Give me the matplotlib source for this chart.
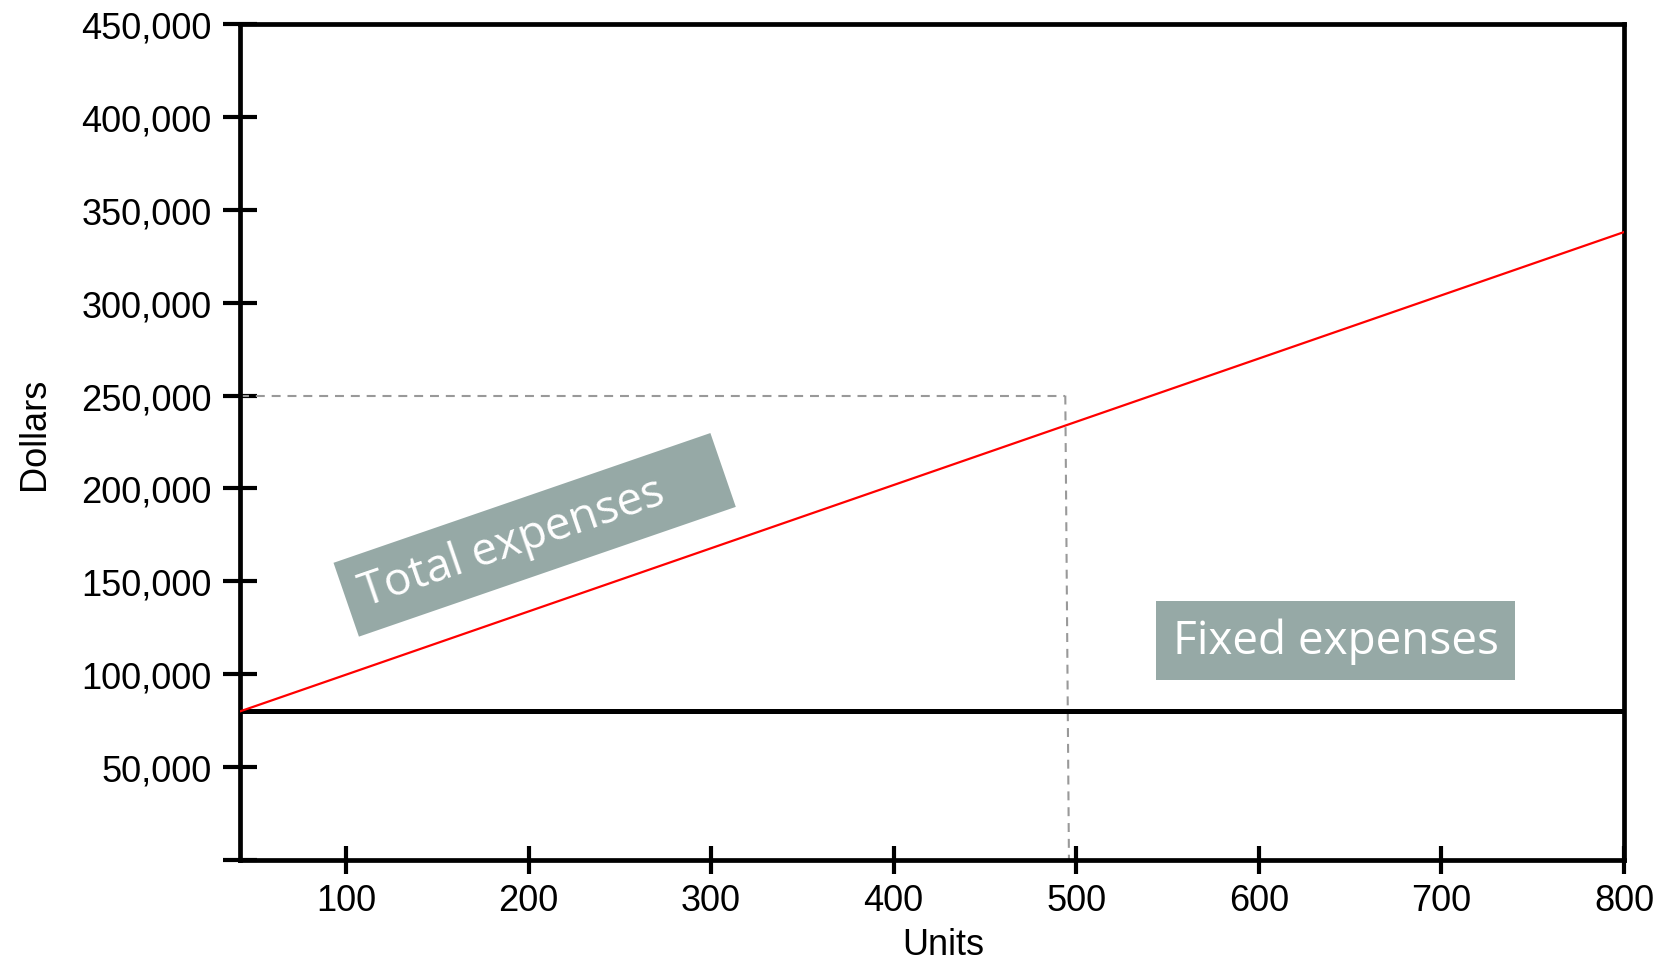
import matplotlib
matplotlib.use("Agg")
import matplotlib.pyplot as plt

# break-even chart: fixed expenses vs total expenses
units = [42, 800]
fixed_exp = [80000, 80000]
total_exp = [80000, 338000]
be_units = 494
be_dollars = 250000

x_ticks = [100, 200, 300, 400, 500, 600, 700, 800]
y_ticks = [0, 50000, 100000, 150000, 200000, 250000, 300000, 350000, 400000, 450000]
y_labels = ["" if v == 0 else f"{v:,}" for v in y_ticks]

BOX = "#96a9a6"
TICKFONT = "Liberation Sans"

fig = plt.figure(figsize=(16.67, 9.62), dpi=100)
ax = fig.add_axes([0.1440, 0.1050, 0.8302, 0.8690])

ax.plot(units, fixed_exp, color="black", lw=3.6, zorder=3, solid_capstyle="butt")
ax.plot(units, total_exp, color="#ff0000", lw=1.6, zorder=4)
ax.plot([units[0], be_units], [be_dollars, be_dollars], color="#999999", lw=1.5,
        dashes=(4.3, 3.3), zorder=2)
ax.plot([be_units, be_units + 2], [be_dollars, 0], color="#999999", lw=1.5,
        dashes=(4.3, 3.3), zorder=2)

ax.set_xlim(units[0], 800)
ax.set_ylim(0, 450000)
ax.set_xticks(x_ticks)
ax.set_xticklabels([str(v) for v in x_ticks], fontfamily=TICKFONT, fontsize=26)
ax.set_yticks(y_ticks)
ax.set_yticklabels(y_labels, fontfamily=TICKFONT, fontsize=26)
ax.tick_params(axis="y", direction="inout", length=25, width=3, pad=8)
ax.tick_params(axis="x", direction="inout", length=20, width=3, pad=6.5)
for s in ax.spines.values():
    s.set_linewidth(3.4)

ax.set_xlabel("Units", fontfamily=TICKFONT, fontsize=26)
ax.set_ylabel("Dollars", fontfamily=TICKFONT, fontsize=26)
ax.xaxis.set_label_coords(0.508, -0.080)
ax.yaxis.set_label_coords(-0.136, 0.511)

ax.text(110.6, 136800, "Total expenses    ", rotation=19, rotation_mode="anchor",
        ha="left", va="baseline", color="white", fontfamily="Open Sans", fontsize=33,
        bbox=dict(boxstyle="square,pad=0.35", fc=BOX, ec="none"), zorder=5)
ax.text(642, 118200, "Fixed expenses", ha="center", va="center", color="white",
        fontfamily="Open Sans", fontsize=33,
        bbox=dict(boxstyle="square,pad=0.36", fc=BOX, ec="none"), zorder=5)

fig.savefig("out.png", dpi=100)
